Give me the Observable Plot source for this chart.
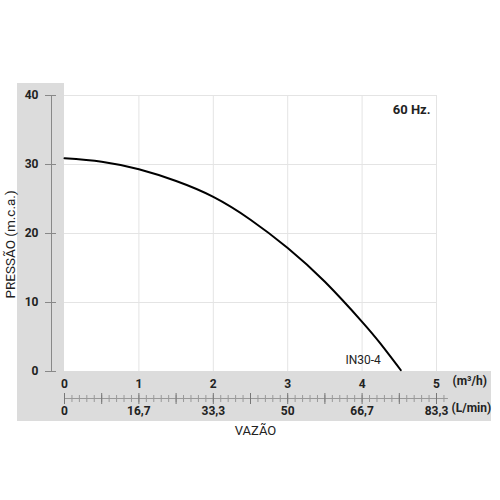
<!DOCTYPE html>
<html>
<head>
<meta charset="utf-8">
<script src="https://cdn.jsdelivr.net/npm/d3@7"></script>
<script src="https://cdn.jsdelivr.net/npm/@observablehq/plot@0.6"></script>
<style>
  body { margin: 0; background: #fff; }
  #chart svg { display: block; }
</style>
</head>
<body>
<div id="chart"></div>
<script>
// curva IN30-4, 60 Hz
const vazao = [0, 0.5, 1, 1.5, 2, 2.5, 3, 3.5, 4, 4.25, 4.52];
const pressao = [30.9, 30.4, 29.3, 27.6, 25.3, 22.0, 17.9, 13.0, 7.2, 4.0, 0.2];

const ticksM3h = [0, 1, 2, 3, 4, 5];
const labelsLmin = ["0", "16,7", "33,3", "50", "66,7", "83,3"];
const ticksPressao = [0, 10, 20, 30, 40];
const rulerMajor = [0, 0.5, 1, 1.5, 2, 2.5, 3, 3.5, 4, 4.5, 5];
const rulerMinor = d3.range(0, 52).map(i => i / 10);
const rulerEnd = 5.16;

const data = vazao.map((q, i) => ({q, h: pressao[i]}));
const last = data[data.length - 1];

const bold = {fontWeight: "bold", fill: "#222"};

const chart = Plot.plot({
  width: 500,
  height: 500,
  marginLeft: 64,
  marginRight: 64,
  marginTop: 95,
  marginBottom: 129,
  style: {fontFamily: "Roboto", fontSize: "12px", color: "#222"},
  x: {domain: [0, 5]},
  y: {domain: [0, 40]},
  marks: [
    Plot.gridX({ticks: [1, 2, 3, 4, 5], stroke: "#e4e4e4", strokeOpacity: 1}),
    Plot.gridY({ticks: [10, 20, 30, 40], stroke: "#e4e4e4", strokeOpacity: 1}),

    // eixo y
    Plot.ruleX([0], {y1: 0, y2: 40, dx: -13, stroke: "#888"}),
    Plot.axisY({ticks: ticksPressao, tickSize: 11, tickPadding: 7, dx: -8, stroke: "#888", label: null, ...bold}),
    Plot.text(["PRESSÃO (m.c.a.)"], {frameAnchor: "left", textAnchor: "middle", rotate: -90, dx: -54, dy: 11, fontSize: 13.5, fill: "#222"}),

    // eixo x: m3/h em cima, L/min embaixo
    Plot.axisX({ticks: ticksM3h, tickSize: 0, tickPadding: 8, label: null, tickFormat: d => String(d), ...bold}),
    Plot.axisX({ticks: ticksM3h, tickSize: 0, tickPadding: 35, label: null,
      tickFormat: d => labelsLmin[ticksM3h.indexOf(d)], ...bold}),
    Plot.ruleY([0], {x1: 0, x2: rulerEnd, dy: 27, stroke: "#999"}),
    Plot.axisX({ticks: rulerMinor, tickSize: 7, dy: 24, tickFormat: () => "", label: null, stroke: "#999"}),
    Plot.axisX({ticks: rulerMajor, tickSize: 11, dy: 22, tickFormat: () => "", label: null, stroke: "#777"}),
    Plot.text(["(m³/h)"], {x: 5, frameAnchor: "bottom", dx: 16, dy: 13, textAnchor: "start", ...bold}),
    Plot.text(["(L/min)"], {x: 5, frameAnchor: "bottom", dx: 15, dy: 40, textAnchor: "start", ...bold}),
    Plot.text(["VAZÃO"], {frameAnchor: "bottom", dx: 5, dy: 63, fontSize: 13, fill: "#222"}),

    // curva
    Plot.line(data, {x: "q", y: "h", curve: "natural", stroke: "#000", strokeWidth: 2}),
    Plot.text([last], {x: "q", y: "h", text: () => "IN30-4", dx: -20, dy: -10, textAnchor: "end", fill: "#222"}),
    Plot.text(["60 Hz."], {frameAnchor: "top-right", dx: -6, dy: 9, textAnchor: "end", fontSize: 13, ...bold})
  ]
});

// painel cinza atrás dos eixos
const sx = chart.scale("x"), sy = chart.scale("y");
const x0 = sx.apply(0), x5 = sx.apply(5), y0 = sy.apply(0), y40 = sy.apply(40);
const svg = d3.select(chart);
const panel = svg.insert("g", ":first-child").attr("fill", "#dcdcdc");
panel.append("rect").attr("x", x0 - 47).attr("y", y40 - 12).attr("width", 47).attr("height", y0 - y40 + 62);
panel.append("rect").attr("x", x0 - 47).attr("y", y0).attr("width", x5 - x0 + 102).attr("height", 50);

d3.select("#chart").append(() => chart);
</script>
</body>
</html>
